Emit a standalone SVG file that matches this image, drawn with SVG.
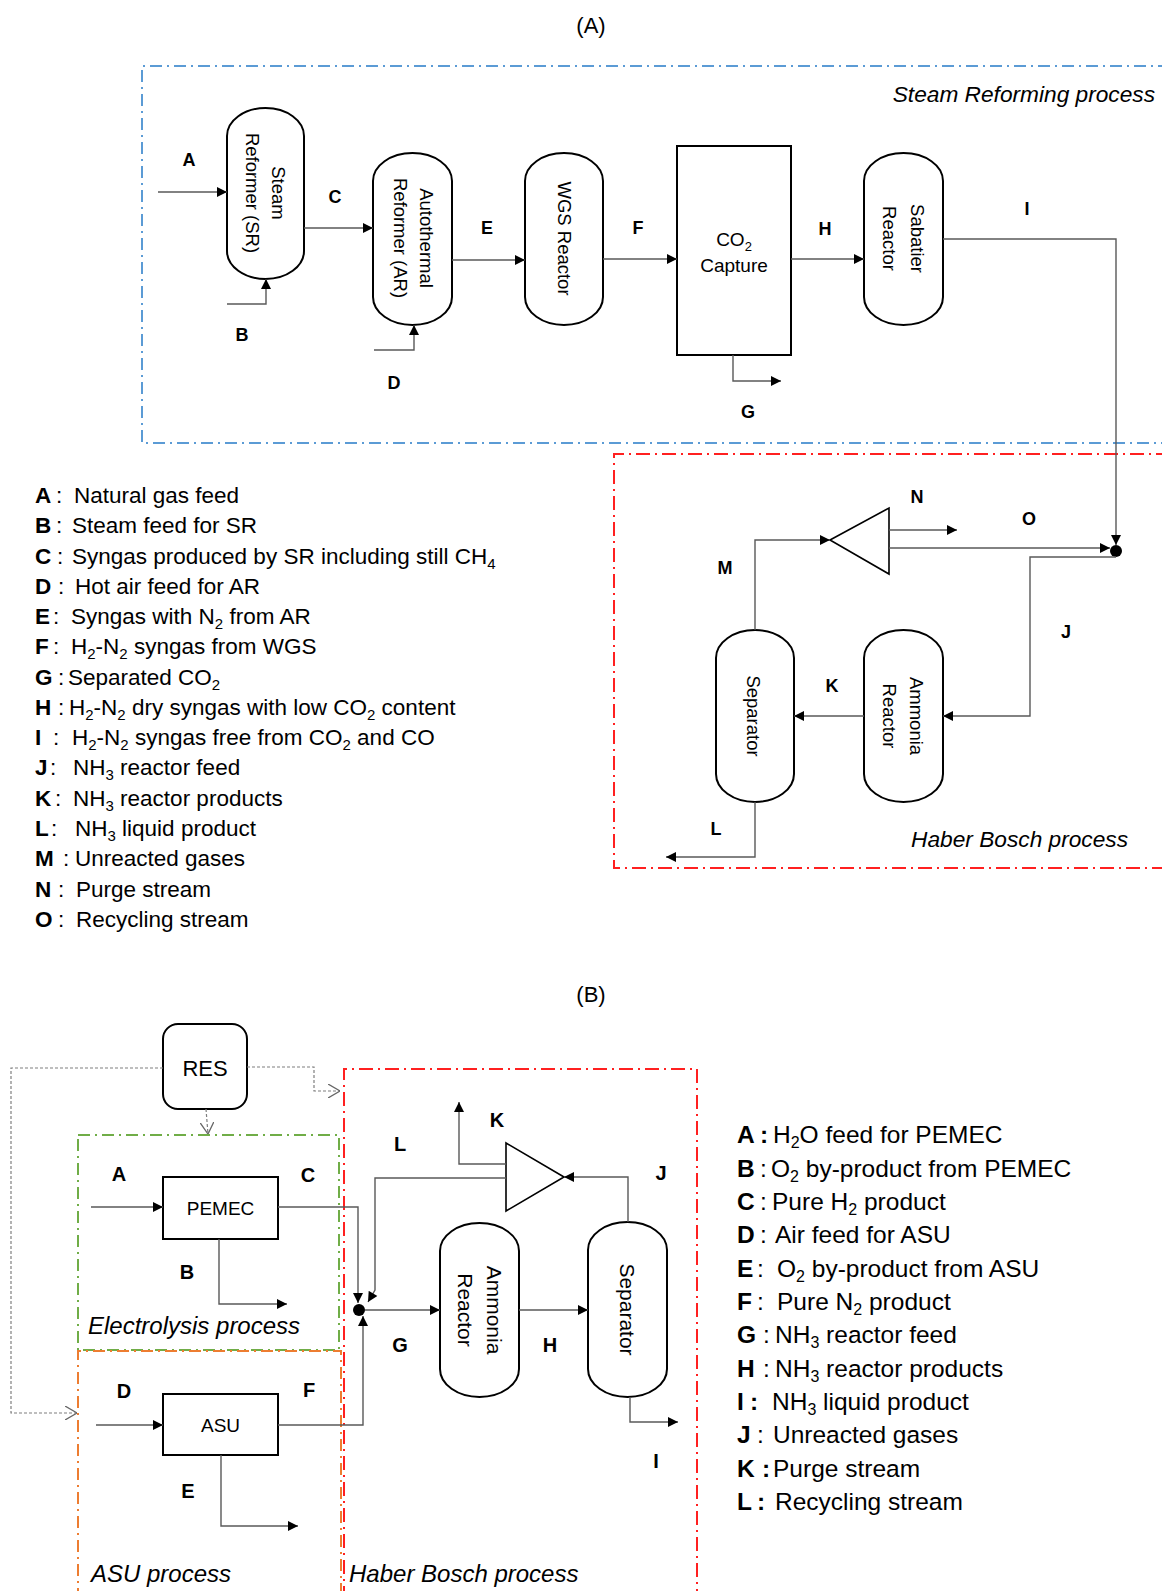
<svg xmlns="http://www.w3.org/2000/svg" width="1162" height="1591" viewBox="0 0 1162 1591">
<style>
text{font-family:"Liberation Sans",Arial,sans-serif;fill:#000}
.title{font-size:22px;text-anchor:middle}
.lbl{font-size:18px;font-weight:bold;text-anchor:middle}
.lblB{font-size:20px;font-weight:bold;text-anchor:middle}
.leg{font-size:22.5px}
.legB{font-size:24.5px}
.b{font-weight:bold}
.s{font-size:15px}
.sB{font-size:16px}
.proc{font-size:22.7px;font-style:italic}
.procB{font-size:24px;font-style:italic}
.cap{fill:#fff;stroke:#000;stroke-width:2}
.box{fill:#fff;stroke:#000;stroke-width:2}
.ntext{font-size:18.5px;text-anchor:middle;dominant-baseline:central}
.ntextB{font-size:21px;text-anchor:middle;dominant-baseline:central}
.con{fill:none;stroke:#595959;stroke-width:1.4}
.dot{fill:none;stroke:#7f7f7f;stroke-width:1.2;stroke-dasharray:3 2}
.blue{fill:none;stroke:#5b9bd5;stroke-width:2;stroke-dasharray:12 5 2 5}
.red{fill:none;stroke:#ff2020;stroke-width:2;stroke-dasharray:14 5 2 5}
.green{fill:none;stroke:#70ad47;stroke-width:2;stroke-dasharray:12 5 2 5}
.orange{fill:none;stroke:#ed7d31;stroke-width:2;stroke-dasharray:12 5 2 5}
</style>
<defs>
<marker id="arr" viewBox="0 0 10 10" refX="10" refY="5" markerWidth="11" markerHeight="10" markerUnits="userSpaceOnUse" orient="auto">
<path d="M0,0 L10,5 L0,10 z" fill="#000"/>
</marker>
<marker id="open" viewBox="0 0 12 14" refX="12" refY="7" markerWidth="12" markerHeight="14" markerUnits="userSpaceOnUse" orient="auto">
<path d="M0,0 L12,7 L0,14" fill="none" stroke="#666" stroke-width="1.3"/>
</marker>
</defs>

<!-- ============ PART A ============ -->
<text class="title" x="591" y="33">(A)</text>

<g id="zone-steam-reforming">
<path class="blue" d="M1170,66 H142 V443 H1170"/>
<text class="proc" x="1155" y="102" text-anchor="end">Steam Reforming process</text>
</g>
<g id="zone-haber-bosch-A">
<path class="red" d="M1170,454 H614 V868 H1170"/>
<text class="proc" x="1128" y="847" text-anchor="end">Haber Bosch process</text>
</g>

<g id="node-SR">
<rect class="cap" x="227" y="108" width="77" height="171" rx="38.5" ry="28"/>
<g transform="translate(265.5,193) rotate(90)">
<text class="ntext" x="0" y="-12.5">Steam</text>
<text class="ntext" x="0" y="13.5">Reformer (SR)</text>
</g>
</g>
<g id="node-AR">
<rect class="cap" x="373" y="153" width="79" height="172" rx="39.5" ry="28"/>
<g transform="translate(412.5,238) rotate(90)">
<text class="ntext" x="0" y="-13.5">Autothermal</text>
<text class="ntext" x="0" y="12.5">Reformer (AR)</text>
</g>
</g>
<g id="node-WGS">
<rect class="cap" x="525" y="153" width="78" height="172" rx="39" ry="28"/>
<g transform="translate(564,238.5) rotate(90)">
<text class="ntext" x="0" y="0">WGS Reactor</text>
</g>
</g>
<g id="node-CO2">
<rect class="box" x="677" y="146" width="114" height="209"/>
<text x="734" y="246" font-size="19" text-anchor="middle">CO<tspan dy="5" font-size="13">2</tspan></text>
<text x="734" y="272" font-size="19" text-anchor="middle">Capture</text>
</g>
<g id="node-Sabatier">
<rect class="cap" x="864" y="153" width="79" height="172" rx="39.5" ry="28"/>
<g transform="translate(903.5,238.5) rotate(90)">
<text class="ntext" x="0" y="-13.5">Sabatier</text>
<text class="ntext" x="0" y="14.5">Reactor</text>
</g>
</g>
<g id="node-SepA">
<rect class="cap" x="716" y="630" width="78" height="172" rx="39" ry="28"/>
<g transform="translate(755,716) rotate(90)">
<text class="ntext" x="0" y="2" font-size="19.5">Separator</text>
</g>
</g>
<g id="node-AmmA">
<rect class="cap" x="864" y="630" width="79" height="172" rx="39.5" ry="28"/>
<g transform="translate(903.5,716) rotate(90)">
<text class="ntext" x="0" y="-13" font-size="19.5">Ammonia</text>
<text class="ntext" x="0" y="14" font-size="19.5">Reactor</text>
</g>
</g>
<g id="node-splitA">
<path d="M830,540 L889,508 L889,574 Z" fill="#fff" stroke="#000" stroke-width="1.6"/>
</g>
<g id="node-mixA">
<circle cx="1116" cy="551" r="6" fill="#000"/>
</g>

<g id="connectors-A">
<path class="con" d="M158,192 H227" marker-end="url(#arr)"/>
<path class="con" d="M227,304 H266 V279" marker-end="url(#arr)"/>
<path class="con" d="M304,228 H373" marker-end="url(#arr)"/>
<path class="con" d="M374,350 H414 V325" marker-end="url(#arr)"/>
<path class="con" d="M452,260 H525" marker-end="url(#arr)"/>
<path class="con" d="M603,259 H677" marker-end="url(#arr)"/>
<path class="con" d="M791,259 H864" marker-end="url(#arr)"/>
<path class="con" d="M733,355 V381 H781" marker-end="url(#arr)"/>
<path class="con" d="M943,239 H1116 V545" marker-end="url(#arr)"/>
<path class="con" d="M889,530 H957" marker-end="url(#arr)"/>
<path class="con" d="M889,548 H1110" marker-end="url(#arr)"/>
<path class="con" d="M1116,557 H1030 V716 H943" marker-end="url(#arr)"/>
<path class="con" d="M864,716 H794" marker-end="url(#arr)"/>
<path class="con" d="M755,630 V540 H830" marker-end="url(#arr)"/>
<path class="con" d="M755,802 V857 H666" marker-end="url(#arr)"/>
</g>

<g id="labels-A">
<text class="lbl" x="189" y="166">A</text>
<text class="lbl" x="242" y="341">B</text>
<text class="lbl" x="335" y="203">C</text>
<text class="lbl" x="394" y="389">D</text>
<text class="lbl" x="487" y="234">E</text>
<text class="lbl" x="638" y="234">F</text>
<text class="lbl" x="748" y="418">G</text>
<text class="lbl" x="825" y="235">H</text>
<text class="lbl" x="1027" y="215">I</text>
<text class="lbl" x="1066" y="638">J</text>
<text class="lbl" x="832" y="692">K</text>
<text class="lbl" x="716" y="835">L</text>
<text class="lbl" x="725" y="574">M</text>
<text class="lbl" x="917" y="503">N</text>
<text class="lbl" x="1029" y="525">O</text>
</g>

<g id="legend-A" class="leg">
<text y="503"><tspan class="b" x="35">A</tspan><tspan x="56">:</tspan><tspan x="74">Natural gas feed</tspan></text>
<text y="533"><tspan class="b" x="35">B</tspan><tspan x="56">:</tspan><tspan x="72">Steam feed for SR</tspan></text>
<text y="564"><tspan class="b" x="35">C</tspan><tspan x="57">:</tspan><tspan x="72">Syngas produced by SR including still CH</tspan><tspan class="s" dy="5">4</tspan></text>
<text y="594"><tspan class="b" x="35">D</tspan><tspan x="58">:</tspan><tspan x="75">Hot air feed for AR</tspan></text>
<text y="624"><tspan class="b" x="35">E</tspan><tspan x="53">:</tspan><tspan x="71">Syngas with N</tspan><tspan class="s" dy="5">2</tspan><tspan dy="-5"> from AR</tspan></text>
<text y="654"><tspan class="b" x="35">F</tspan><tspan x="53">:</tspan><tspan x="71">H</tspan><tspan class="s" dy="5">2</tspan><tspan dy="-5">-N</tspan><tspan class="s" dy="5">2</tspan><tspan dy="-5"> syngas from WGS</tspan></text>
<text y="685"><tspan class="b" x="35">G</tspan><tspan x="58">:</tspan><tspan x="68">Separated CO</tspan><tspan class="s" dy="5">2</tspan></text>
<text y="715"><tspan class="b" x="35">H</tspan><tspan x="58">:</tspan><tspan x="69">H</tspan><tspan class="s" dy="5">2</tspan><tspan dy="-5">-N</tspan><tspan class="s" dy="5">2</tspan><tspan dy="-5"> dry syngas with low CO</tspan><tspan class="s" dy="5">2</tspan><tspan dy="-5"> content</tspan></text>
<text y="745"><tspan class="b" x="35">I</tspan><tspan x="53">:</tspan><tspan x="72">H</tspan><tspan class="s" dy="5">2</tspan><tspan dy="-5">-N</tspan><tspan class="s" dy="5">2</tspan><tspan dy="-5"> syngas free from CO</tspan><tspan class="s" dy="5">2</tspan><tspan dy="-5"> and CO</tspan></text>
<text y="775"><tspan class="b" x="35">J</tspan><tspan x="50">:</tspan><tspan x="73">NH</tspan><tspan class="s" dy="5">3</tspan><tspan dy="-5"> reactor feed</tspan></text>
<text y="806"><tspan class="b" x="35">K</tspan><tspan x="55">:</tspan><tspan x="73">NH</tspan><tspan class="s" dy="5">3</tspan><tspan dy="-5"> reactor products</tspan></text>
<text y="836"><tspan class="b" x="35">L</tspan><tspan x="51">:</tspan><tspan x="75">NH</tspan><tspan class="s" dy="5">3</tspan><tspan dy="-5"> liquid product</tspan></text>
<text y="866"><tspan class="b" x="35">M</tspan><tspan x="63">:</tspan><tspan x="75">Unreacted gases</tspan></text>
<text y="897"><tspan class="b" x="35">N</tspan><tspan x="58">:</tspan><tspan x="76">Purge stream</tspan></text>
<text y="927"><tspan class="b" x="35">O</tspan><tspan x="58">:</tspan><tspan x="76">Recycling stream</tspan></text>
</g>

<!-- ============ PART B ============ -->
<text class="title" x="591" y="1002">(B)</text>

<g id="zone-electrolysis">
<rect class="green" x="78" y="1135" width="261" height="215"/>
<text class="procB" x="88" y="1334">Electrolysis process</text>
</g>
<g id="zone-asu">
<path class="orange" d="M78,1600 V1351 H341 V1600"/>
<text class="procB" x="91" y="1582">ASU process</text>
</g>
<g id="zone-haber-bosch-B">
<path class="red" d="M344,1600 V1069 H697 V1600"/>
<text class="procB" x="349" y="1582">Haber Bosch process</text>
</g>

<g id="node-RES">
<rect class="box" x="163" y="1024" width="84" height="85" rx="15" ry="15"/>
<text x="205" y="1076" font-size="22" text-anchor="middle">RES</text>
</g>
<g id="node-PEMEC">
<rect class="box" x="163" y="1177" width="115" height="62"/>
<text x="220.5" y="1215" font-size="19" text-anchor="middle">PEMEC</text>
</g>
<g id="node-ASU">
<rect class="box" x="163" y="1394" width="115" height="61"/>
<text x="220.5" y="1432" font-size="19" text-anchor="middle">ASU</text>
</g>
<g id="node-AmmB">
<rect class="cap" x="440" y="1223" width="79" height="174" rx="39.5" ry="28"/>
<g transform="translate(479.5,1310) rotate(90)">
<text class="ntextB" x="0" y="-14.5">Ammonia</text>
<text class="ntextB" x="0" y="14.5">Reactor</text>
</g>
</g>
<g id="node-SepB">
<rect class="cap" x="588" y="1222" width="79" height="175" rx="39.5" ry="28"/>
<g transform="translate(627.5,1309.5) rotate(90)">
<text class="ntextB" x="0" y="0">Separator</text>
</g>
</g>
<g id="node-splitB">
<path d="M564,1177 L506,1143 L506,1211 Z" fill="#fff" stroke="#000" stroke-width="1.6"/>
</g>
<g id="node-mixB">
<circle cx="359" cy="1310" r="6" fill="#000"/>
</g>

<g id="connectors-B">
<path class="dot" d="M163,1068 H11 V1413 H77" marker-end="url(#open)"/>
<path class="dot" d="M247,1067 H314 V1091 H340" marker-end="url(#open)"/>
<path class="dot" d="M206,1109 L208,1134" marker-end="url(#open)"/>
<path class="con" d="M91,1207 H163" marker-end="url(#arr)"/>
<path class="con" d="M219,1239 V1304 H287" marker-end="url(#arr)"/>
<path class="con" d="M278,1207 H358 V1303" marker-end="url(#arr)"/>
<path class="con" d="M96,1425 H163" marker-end="url(#arr)"/>
<path class="con" d="M221,1455 V1526 H298" marker-end="url(#arr)"/>
<path class="con" d="M278,1425 H363 V1316" marker-end="url(#arr)"/>
<path class="con" d="M506,1178 H375 V1290 L368,1302" marker-end="url(#arr)"/>
<path class="con" d="M506,1164 H459 V1102" marker-end="url(#arr)"/>
<path class="con" d="M365,1310 H440" marker-end="url(#arr)"/>
<path class="con" d="M519,1310 H588" marker-end="url(#arr)"/>
<path class="con" d="M628,1222 V1177 H564" marker-end="url(#arr)"/>
<path class="con" d="M630,1397 V1422 H678" marker-end="url(#arr)"/>
</g>

<g id="labels-B">
<text class="lblB" x="119" y="1181">A</text>
<text class="lblB" x="187" y="1279">B</text>
<text class="lblB" x="308" y="1182">C</text>
<text class="lblB" x="124" y="1398">D</text>
<text class="lblB" x="188" y="1498">E</text>
<text class="lblB" x="309" y="1397">F</text>
<text class="lblB" x="400" y="1352">G</text>
<text class="lblB" x="550" y="1352">H</text>
<text class="lblB" x="656" y="1468">I</text>
<text class="lblB" x="661" y="1180">J</text>
<text class="lblB" x="497" y="1127">K</text>
<text class="lblB" x="400" y="1151">L</text>
</g>

<g id="legend-B" class="legB">
<text y="1143"><tspan class="b" x="737">A</tspan><tspan class="b" x="760">:</tspan><tspan x="773">H</tspan><tspan class="sB" dy="5">2</tspan><tspan dy="-5">O feed for PEMEC</tspan></text>
<text y="1177"><tspan class="b" x="737">B</tspan><tspan x="760">:</tspan><tspan x="771">O</tspan><tspan class="sB" dy="5">2</tspan><tspan dy="-5"> by-product from PEMEC</tspan></text>
<text y="1210"><tspan class="b" x="737">C</tspan><tspan x="760">:</tspan><tspan x="772">Pure H</tspan><tspan class="sB" dy="5">2</tspan><tspan dy="-5"> product</tspan></text>
<text y="1243"><tspan class="b" x="737">D</tspan><tspan x="760">:</tspan><tspan x="775">Air feed for ASU</tspan></text>
<text y="1277"><tspan class="b" x="737">E</tspan><tspan x="757">:</tspan><tspan x="777">O</tspan><tspan class="sB" dy="5">2</tspan><tspan dy="-5"> by-product from ASU</tspan></text>
<text y="1310"><tspan class="b" x="737">F</tspan><tspan x="757">:</tspan><tspan x="777">Pure N</tspan><tspan class="sB" dy="5">2</tspan><tspan dy="-5"> product</tspan></text>
<text y="1343"><tspan class="b" x="737">G</tspan><tspan x="763">:</tspan><tspan x="775">NH</tspan><tspan class="sB" dy="5">3</tspan><tspan dy="-5"> reactor feed</tspan></text>
<text y="1377"><tspan class="b" x="737">H</tspan><tspan x="763">:</tspan><tspan x="775">NH</tspan><tspan class="sB" dy="5">3</tspan><tspan dy="-5"> reactor products</tspan></text>
<text y="1410"><tspan class="b" x="737">I</tspan><tspan class="b" x="750">:</tspan><tspan x="772">NH</tspan><tspan class="sB" dy="5">3</tspan><tspan dy="-5"> liquid product</tspan></text>
<text y="1443"><tspan class="b" x="737">J</tspan><tspan x="757">:</tspan><tspan x="773">Unreacted gases</tspan></text>
<text y="1477"><tspan class="b" x="737">K</tspan><tspan class="b" x="762">:</tspan><tspan x="773">Purge stream</tspan></text>
<text y="1510"><tspan class="b" x="737">L</tspan><tspan class="b" x="757">:</tspan><tspan x="775">Recycling stream</tspan></text>
</g>
</svg>
